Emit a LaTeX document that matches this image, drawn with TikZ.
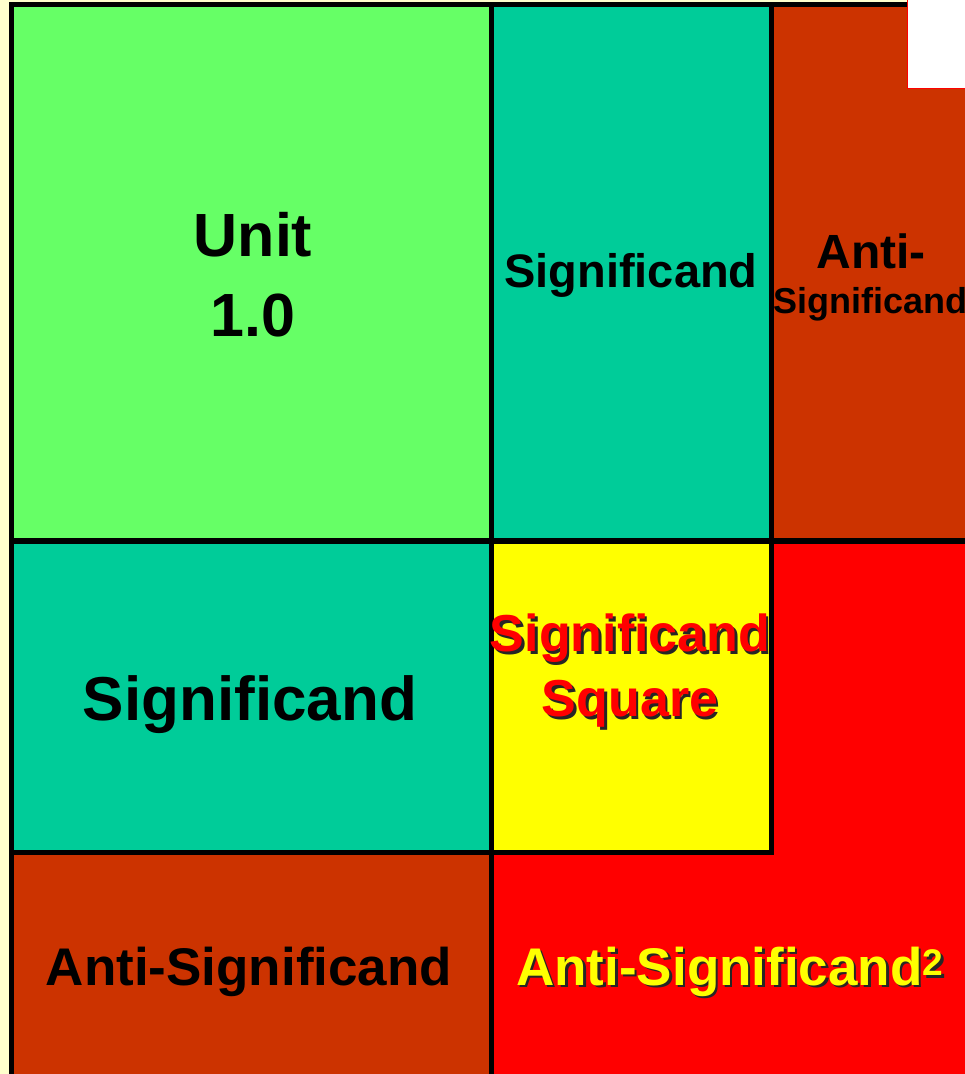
\documentclass[tikz,border=0pt]{standalone}
\usepackage{fontspec}
\setmainfont{Liberation Sans}
\usetikzlibrary{positioning}

\definecolor{paper}{HTML}{FFFFCC}
\definecolor{unitgreen}{HTML}{66FF66}
\definecolor{sigteal}{HTML}{00CC99}
\definecolor{antibrown}{HTML}{CC3300}
\definecolor{sqyellow}{HTML}{FFFF00}
\definecolor{antired}{HTML}{FF0000}

% text with a dark drop shadow
\newcommand{\shadowed}[2]{\rlap{\kern2.5pt\raisebox{-2.5pt}{\textcolor{black!85}{#2}}}\textcolor{#1}{#2}}

\begin{document}
\begin{tikzpicture}[
    x=1pt, y=-1pt,
    % --- STYLES ---
    cell/.style={draw=none},
    border/.style={line width=5.5pt, black, line cap=rect},
    label/.style={inner sep=0pt, align=center, font=\bfseries}
]

    % --- BACKGROUND ---
    \fill[paper] (0,0) rectangle (965,1074);
    \useasboundingbox (0,0) rectangle (965,1074);

    % --- CELLS ---
    \fill[cell, unitgreen] (11.5,4.5) rectangle (491.5,541);
    \fill[cell, sigteal] (491.5,4.5) rectangle (771.5,541);
    \fill[cell, antibrown] (771.5,4.5) rectangle (965,541);
    \fill[cell, sigteal] (11.5,541) rectangle (491.5,852.5);
    \fill[cell, sqyellow] (491.5,541) rectangle (771.5,852.5);
    \fill[cell, antired] (771.5,541) rectangle (965,1074);
    \fill[cell, antired] (491.5,852.5) rectangle (965,1074);
    \fill[cell, antibrown] (11.5,852.5) rectangle (491.5,1074);

    % --- GRID LINES ---
    \draw[border] (11.5,4.5) -- (905,4.5);
    \draw[border] (11.5,4.5) -- (11.5,1074);
    \draw[border] (491.5,4.5) -- (491.5,1074);
    \draw[border] (771.5,4.5) -- (771.5,852.5);
    \draw[border] (11.5,541) -- (965,541);
    \draw[border] (11.5,852.5) -- (771.5,852.5);

    % white corner patch
    \fill[white] (907.5,0) rectangle (965,88.5);
    \draw[antired, line width=1.2pt] (907.5,0) -- (907.5,88.5) -- (965,88.5);

    % --- NODES ---
    \node[label, font=\bfseries\fontsize{61}{80}\selectfont] (unit) at (253,275) {Unit\\1.0};

    \node[label, anchor=base, font=\bfseries\fontsize{47}{56}\selectfont] (sigtop) at (631,287) {Significand};

    \node[label, anchor=base, font=\bfseries\fontsize{48}{56}\selectfont] (antitop) at (871,268) {Anti-};
    \node[label, anchor=base, font=\bfseries\fontsize{36}{44}\selectfont] (antisigtop) at (870,313) {Significand};

    \node[label, anchor=base, font=\bfseries\fontsize{62}{72}\selectfont] (sigleft) at (250,720) {Significand};

    \node[label, font=\bfseries\fontsize{52}{65}\selectfont] (square) at (630,672) {\shadowed{antired}{Significand}\\\shadowed{antired}{Square}};

    \node[label, anchor=base, font=\bfseries\fontsize{53}{62}\selectfont] (antileft) at (249,985) {Anti-Significand};

    \node[label, anchor=base, font=\bfseries\fontsize{53}{62}\selectfont] (antisq) at (730,985) {\shadowed{sqyellow}{Anti-Significand\textsuperscript{2}}};

\end{tikzpicture}
\end{document}
